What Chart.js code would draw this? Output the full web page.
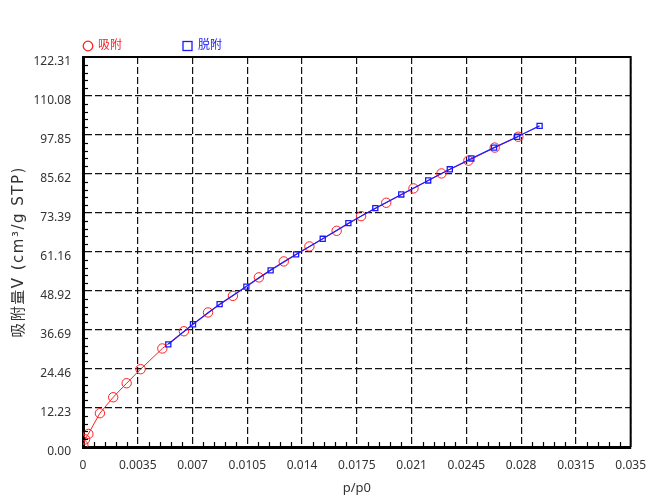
<!DOCTYPE html>
<html>
<head>
<meta charset="utf-8">
<script src="https://cdn.jsdelivr.net/npm/chart.js@4"></script>
<style>
  html, body { margin: 0; padding: 0; background: #fff; }
  #wrap { width: 657px; height: 501px; }
</style>
</head>
<body>
<div id="wrap"><canvas id="grafico"></canvas></div>
<script>
// adsorption (red circles)
const adsP = [0.00002, 0.00013, 0.00034, 0.00108, 0.00193, 0.00279, 0.00368, 0.00507, 0.00645, 0.00799,
  0.00958, 0.01124, 0.01283, 0.01447, 0.01621, 0.01777, 0.01938, 0.02112, 0.02291, 0.02463, 0.02631, 0.02782];
const adsV = [0.6, 2.4, 4.1, 10.6, 15.6, 20.0, 24.4, 30.9, 36.3, 42.2,
  47.4, 53.2, 58.2, 62.9, 67.8, 72.4, 76.6, 81.1, 85.8, 89.8, 93.9, 97.3];

// desorption (blue squares)
const desP = [0.02918, 0.02775, 0.02627, 0.02482, 0.02344, 0.02206, 0.02034, 0.01868, 0.01696, 0.01532,
  0.01362, 0.01199, 0.01044, 0.00873, 0.00703, 0.00545];
const desV = [100.7, 97.3, 93.9, 90.5, 87.1, 83.6, 79.2, 74.9, 70.2, 65.3,
  60.4, 55.4, 50.3, 44.8, 38.5, 32.2];

const xTicks = [0, 0.0035, 0.007, 0.0105, 0.014, 0.0175, 0.021, 0.0245, 0.028, 0.0315, 0.035];
const xTickLabels = ["0", "0.0035", "0.007", "0.0105", "0.014", "0.0175", "0.021", "0.0245", "0.028", "0.0315", "0.035"];
const yTicks = [0, 12.23, 24.46, 36.69, 48.92, 61.16, 73.39, 85.62, 97.85, 110.08, 122.31];

const legendItems = ["吸附", "脱附"];
const tituloY = "吸附量V (cm³/g STP)";
const corVermelho = "#ff2020";
const corAzul = "#1a1aff";
const fonte = "'Noto Sans', 'Noto Sans CJK SC', sans-serif";

// moldura, ticks menores, legenda e titulo do eixo y
const extras = {
  id: "extras",
  afterDraw(chart) {
    const { ctx, chartArea: a, scales } = chart;
    ctx.save();
    ctx.strokeStyle = "#000";

    // ticks menores para dentro
    ctx.lineWidth = 1.2;
    const xs = scales.x, ys = scales.y;
    for (let i = 0; i < xTicks.length - 1; i++) {
      for (let k = 1; k < 5; k++) {
        const px = Math.round(xs.getPixelForValue(xTicks[i] + (xTicks[i + 1] - xTicks[i]) * k / 5)) + 0.5;
        ctx.beginPath(); ctx.moveTo(px, a.bottom); ctx.lineTo(px, a.bottom - 5); ctx.stroke();
      }
    }
    for (let i = 0; i < yTicks.length - 1; i++) {
      for (let k = 1; k < 5; k++) {
        const py = Math.round(ys.getPixelForValue(yTicks[i] + (yTicks[i + 1] - yTicks[i]) * k / 5)) + 0.5;
        ctx.beginPath(); ctx.moveTo(a.left, py); ctx.lineTo(a.left + 5, py); ctx.stroke();
      }
    }

    // topo e direita
    ctx.lineWidth = 2;
    ctx.beginPath();
    ctx.moveTo(a.left, a.top);
    ctx.lineTo(a.right, a.top);
    ctx.lineTo(a.right, a.bottom);
    ctx.stroke();

    // legenda
    const ly = a.top - 11;
    ctx.lineWidth = 1.3;
    ctx.strokeStyle = corVermelho;
    ctx.beginPath(); ctx.arc(a.left + 5, ly, 4.8, 0, Math.PI * 2); ctx.stroke();
    ctx.strokeStyle = corAzul;
    ctx.strokeRect(a.left + 100, ly - 4.5, 9, 9);
    ctx.font = "12px " + fonte;
    ctx.textBaseline = "middle";
    ctx.fillStyle = corVermelho;
    ctx.fillText(legendItems[0], a.left + 15, ly);
    ctx.fillStyle = corAzul;
    ctx.fillText(legendItems[1], a.left + 115, ly);

    // titulo y
    ctx.font = "15px 'DejaVu Sans', 'Noto Sans CJK SC', sans-serif";
    const larg = ctx.measureText(tituloY).width;
    const n = [...tituloY].length;
    ctx.letterSpacing = Math.min(1.5, Math.max(0, (180 - larg) / (n - 1))) + "px";
    ctx.translate(19, (a.top + a.bottom) / 2);
    ctx.rotate(-Math.PI / 2);
    ctx.textAlign = "center";
    ctx.fillStyle = "#333";
    ctx.fillText(tituloY, 0, 0);
    ctx.restore();
  }
};

new Chart(document.getElementById("grafico"), {
  type: "line",
  data: {
    datasets: [
      {
        label: legendItems[0],
        data: adsP.map((p, i) => ({ x: p, y: adsV[i] })),
        borderColor: corVermelho,
        borderWidth: 1,
        pointStyle: "circle",
        pointRadius: 4.7,
        pointBorderWidth: 1,
        pointBackgroundColor: "rgba(0,0,0,0)",
        pointBorderColor: corVermelho,
        tension: 0,
        order: 2,
      },
      {
        label: legendItems[1],
        data: desP.map((p, i) => ({ x: p, y: desV[i] })),
        borderColor: corAzul,
        borderWidth: 1.2,
        pointStyle: "rect",
        pointRadius: 3.6,
        pointBorderWidth: 1.3,
        pointBackgroundColor: "rgba(0,0,0,0)",
        pointBorderColor: corAzul,
        tension: 0,
        order: 1,
      },
    ],
  },
  options: {
    responsive: true,
    maintainAspectRatio: false,
    animation: false,
    layout: { padding: { top: 57, right: 25, left: 0, bottom: 0 } },
    plugins: {
      legend: { display: false },
      title: { display: false },
      tooltip: { enabled: false },
    },
    scales: {
      x: {
        type: "linear",
        min: 0,
        max: 0.035,
        afterBuildTicks: (s) => { s.ticks = xTicks.map(v => ({ value: v })); },
        afterFit: (s) => { s.height = 54; },
        border: { display: true, color: "#000", width: 3, dash: [7, 3] },
        grid: { color: "#111", lineWidth: 1.2, drawTicks: false },
        ticks: {
          autoSkip: false,
          maxRotation: 0,
          padding: 11,
          color: "#333",
          font: { family: fonte, size: 12 },
          callback: (v, i) => xTickLabels[i],
        },
        title: {
          display: true,
          text: "p/p0",
          color: "#333",
          font: { family: fonte, size: 13 },
          padding: { bottom: 5, top: 0 },
        },
      },
      y: {
        type: "linear",
        min: 0,
        max: 122.31,
        afterBuildTicks: (s) => { s.ticks = yTicks.map(v => ({ value: v })); },
        afterFit: (s) => { s.width = 83; },
        border: { display: true, color: "#000", width: 3, dash: [7, 3] },
        grid: { color: "#111", lineWidth: 1.2, drawTicks: false },
        ticks: {
          autoSkip: false,
          padding: 12,
          labelOffset: 5,
          color: "#333",
          font: { family: fonte, size: 12 },
          callback: (v) => Number(v).toFixed(2),
        },
        title: { display: false },
      },
    },
  },
  plugins: [extras],
});
</script>
</body>
</html>
